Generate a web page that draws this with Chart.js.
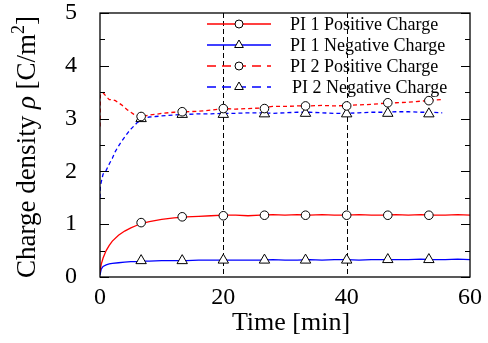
<!DOCTYPE html>
<html>
<head>
<meta charset="utf-8">
<script src="https://cdn.jsdelivr.net/npm/chart.js@4.4.0/dist/chart.umd.min.js"></script>
<style>
html,body{margin:0;padding:0;background:#fff;}
#wrap{width:488px;height:343px;position:relative;}
</style>
</head>
<body>
<div id="wrap"><canvas id="chart"></canvas></div>
<script>
// measured curves
const timePI1 = [0, 0.2, 0.5, 1, 1.5, 2, 3, 4, 5, 6, 7, 8, 10, 12, 14, 16, 18, 20, 22, 24, 26, 28, 30, 32, 34, 36, 38, 40, 42, 44, 46, 48, 50, 52, 54, 56, 58, 60];
const pi1Positive = [0.10, 0.24, 0.36, 0.50, 0.60, 0.68, 0.79, 0.87, 0.93, 0.98, 1.02, 1.05, 1.09, 1.12, 1.14, 1.15, 1.16, 1.17, 1.17, 1.16, 1.17, 1.18, 1.17, 1.18, 1.17, 1.18, 1.17, 1.17, 1.18, 1.17, 1.17, 1.18, 1.17, 1.18, 1.17, 1.17, 1.18, 1.17];
const pi1Negative = [0.04, 0.15, 0.20, 0.23, 0.25, 0.26, 0.27, 0.28, 0.29, 0.29, 0.30, 0.30, 0.31, 0.31, 0.31, 0.32, 0.32, 0.32, 0.32, 0.32, 0.32, 0.33, 0.32, 0.32, 0.33, 0.32, 0.33, 0.33, 0.32, 0.33, 0.33, 0.33, 0.33, 0.34, 0.33, 0.33, 0.34, 0.33];

const timePI2 = [0, 0.05, 0.5, 1, 1.5, 2, 2.5, 3, 3.5, 4, 4.5, 5, 5.5, 6, 7, 8, 9, 10, 12, 14, 16, 18, 20, 22, 24, 26, 28, 30, 32, 34, 36, 38, 40, 42, 44, 46, 48, 50, 52, 54, 55.5];
const pi2Positive = [2.85, 3.45, 3.49, 3.42, 3.36, 3.36, 3.34, 3.30, 3.26, 3.21, 3.16, 3.12, 3.08, 3.05, 3.04, 3.07, 3.08, 3.10, 3.12, 3.13, 3.14, 3.16, 3.19, 3.18, 3.19, 3.20, 3.23, 3.23, 3.24, 3.24, 3.25, 3.24, 3.25, 3.26, 3.27, 3.29, 3.30, 3.31, 3.33, 3.35, 3.36];
const pi2Negative = [1.50, 1.72, 1.95, 2.02, 2.14, 2.25, 2.38, 2.48, 2.57, 2.65, 2.73, 2.80, 2.86, 2.92, 3.00, 3.03, 3.04, 3.05, 3.07, 3.08, 3.09, 3.09, 3.10, 3.10, 3.11, 3.11, 3.10, 3.11, 3.12, 3.12, 3.11, 3.10, 3.10, 3.11, 3.12, 3.12, 3.13, 3.13, 3.12, 3.12, 3.11];

// marker positions
const markerTimes = [6.67, 13.33, 20, 26.67, 33.33, 40, 46.67, 53.33];
const pi1PositiveMarks = [1.03, 1.14, 1.16, 1.17, 1.17, 1.17, 1.17, 1.17];
const pi1NegativeMarks = [0.31, 0.31, 0.32, 0.32, 0.32, 0.32, 0.33, 0.33];
const pi2PositiveMarks = [3.04, 3.13, 3.19, 3.19, 3.24, 3.24, 3.30, 3.34];
const pi2NegativeMarks = [3.00, 3.08, 3.08, 3.09, 3.10, 3.09, 3.10, 3.09];

const seriesNames = ["PI 1 Positive Charge", "PI 1 Negative Charge", "PI 2 Positive Charge", "PI 2 Negative Charge"];
const gridTimes = [20, 40];

const SERIF = '"Liberation Serif", "Times New Roman", serif';

function pts(xs, ys){
    return xs.map((x,i)=>({x:x, y:ys[i]}));
}

function curve(label, xs, ys, color, dash){
    return {
        label: label,
        data: pts(xs, ys),
        borderColor: color,
        borderWidth: 1.3,
        borderDash: dash,
        pointRadius: 0,
        tension: 0,
        fill: false,
        order: 1
    };
}

function marks(xs, ys, style){
    return {
        data: pts(xs, ys),
        showLine: false,
        pointStyle: style,
        pointRadius: style === "triangle" ? 6 : 4.3,
        pointBackgroundColor: "#fff",
        pointBorderColor: "#000",
        pointBorderWidth: 1,
        order: 0
    };
}

const legendRows = [
    {color:"#ff0000", dash:[], style:"circle"},
    {color:"#0000ff", dash:[], style:"triangle"},
    {color:"#ff0000", dash:[9,6], style:"circle"},
    {color:"#0000ff", dash:[9,6], style:"triangle"}
];

const framePlugin = {
    id: "frame",
    beforeDatasetsDraw(chart){
        const ctx = chart.ctx;
        const a = chart.chartArea;
        const xs = chart.scales.x;
        ctx.save();
        ctx.strokeStyle = "#000";
        ctx.lineWidth = 1;
        ctx.setLineDash([5,3]);
        gridTimes.forEach(t=>{
            const px = Math.round(xs.getPixelForValue(t)) + 0.5;
            ctx.beginPath();
            ctx.moveTo(px, a.top);
            ctx.lineTo(px, a.bottom);
            ctx.stroke();
        });
        ctx.restore();
    },
    afterDraw(chart){
        const ctx = chart.ctx;
        const a = chart.chartArea;
        const ys = chart.scales.y;
        ctx.save();
        ctx.strokeStyle = "#000";
        ctx.lineWidth = 1.3;
        ctx.strokeRect(a.left, a.top, a.right - a.left, a.bottom - a.top);

        // inward tick marks left and right
        ctx.lineWidth = 1;
        for(let v = 0; v <= 5; v += 0.5){
            const py = Math.round(ys.getPixelForValue(v)) + 0.5;
            const len = Number.isInteger(v) ? 9 : 5;
            ctx.beginPath();
            ctx.moveTo(a.left, py); ctx.lineTo(a.left + len, py);
            ctx.moveTo(a.right, py); ctx.lineTo(a.right - len, py);
            ctx.stroke();
        }

        // axis titles
        ctx.fillStyle = "#000";
        ctx.font = "26px " + SERIF;
        ctx.textAlign = "center";
        ctx.textBaseline = "alphabetic";
        ctx.fillText("Time [min]", 291, 330);

        ctx.translate(35, 147);
        ctx.rotate(-Math.PI/2);
        const parts = [
            {t:"Charge density ", f:"27px " + SERIF, dy:0},
            {t:"\u03C1", f:"italic 27px " + SERIF, dy:0},
            {t:" [C/m", f:"27px " + SERIF, dy:0},
            {t:"2", f:"18px " + SERIF, dy:-11},
            {t:"]", f:"27px " + SERIF, dy:0}
        ];
        let total = 0;
        parts.forEach(p=>{ ctx.font = p.f; p.w = ctx.measureText(p.t).width; total += p.w; });
        let cx = -total/2;
        ctx.textAlign = "left";
        parts.forEach(p=>{
            ctx.font = p.f;
            ctx.fillText(p.t, cx, p.dy);
            cx += p.w;
        });
        ctx.restore();

        // legend
        ctx.save();
        legendRows.forEach((r,i)=>{
            const y = 24 + i*21;
            ctx.strokeStyle = r.color;
            ctx.lineWidth = 1.3;
            ctx.setLineDash(r.dash);
            ctx.beginPath();
            ctx.moveTo(207, y); ctx.lineTo(271, y);
            ctx.stroke();
            ctx.setLineDash([]);
            ctx.fillStyle = "#fff";
            ctx.strokeStyle = "#000";
            ctx.lineWidth = 1;
            Chart.helpers.drawPoint(ctx, {pointStyle:r.style, radius: r.style === "triangle" ? 5 : 4, borderWidth:1}, 239, y);
            ctx.fillStyle = "#000";
            ctx.font = "18px " + SERIF;
            ctx.textAlign = "left";
            ctx.textBaseline = "alphabetic";
            ctx.fillText(seriesNames[i], i === 3 ? 292 : 290, y + 6);
        });
        ctx.restore();
    }
};

const ctx = document.getElementById("chart");

const chart = new Chart(ctx,{
    type:"line",
    data:{
        datasets:[
            curve(seriesNames[0], timePI1, pi1Positive, "#ff0000", []),
            curve(seriesNames[1], timePI1, pi1Negative, "#0000ff", []),
            curve(seriesNames[2], timePI2, pi2Positive, "#ff0000", [4,3]),
            curve(seriesNames[3], timePI2, pi2Negative, "#0000ff", [4,3]),
            marks(markerTimes, pi1PositiveMarks, "circle"),
            marks(markerTimes, pi1NegativeMarks, "triangle"),
            marks(markerTimes, pi2PositiveMarks, "circle"),
            marks(markerTimes, pi2NegativeMarks, "triangle")
        ]
    },
    options:{
        responsive:true,
        maintainAspectRatio:false,
        animation:false,
        devicePixelRatio:1,
        layout:{padding:{left:0, right:18, top:13, bottom:0}},
        plugins:{
            legend:{display:false},
            tooltip:{enabled:false}
        },
        scales:{
            x:{
                type:"linear",
                min:0,
                max:60,
                afterFit(scale){
                    scale.height = 66;
                    scale.paddingLeft = 0;
                    scale.paddingRight = 0;
                },
                grid:{display:false, drawTicks:false},
                border:{display:false},
                ticks:{
                    stepSize:20,
                    autoSkip:false,
                    maxRotation:0,
                    padding:6,
                    color:"#000",
                    font:{family:SERIF, size:24}
                }
            },
            y:{
                min:0,
                max:5,
                afterFit(scale){
                    scale.width = 100;
                    scale.paddingTop = 0;
                    scale.paddingBottom = 0;
                },
                grid:{display:false, drawTicks:false},
                border:{display:false},
                ticks:{
                    stepSize:1,
                    autoSkip:false,
                    padding:23,
                    color:"#000",
                    font:{family:SERIF, size:24}
                }
            }
        }
    },
    plugins:[framePlugin]
});
</script>
</body>
</html>
